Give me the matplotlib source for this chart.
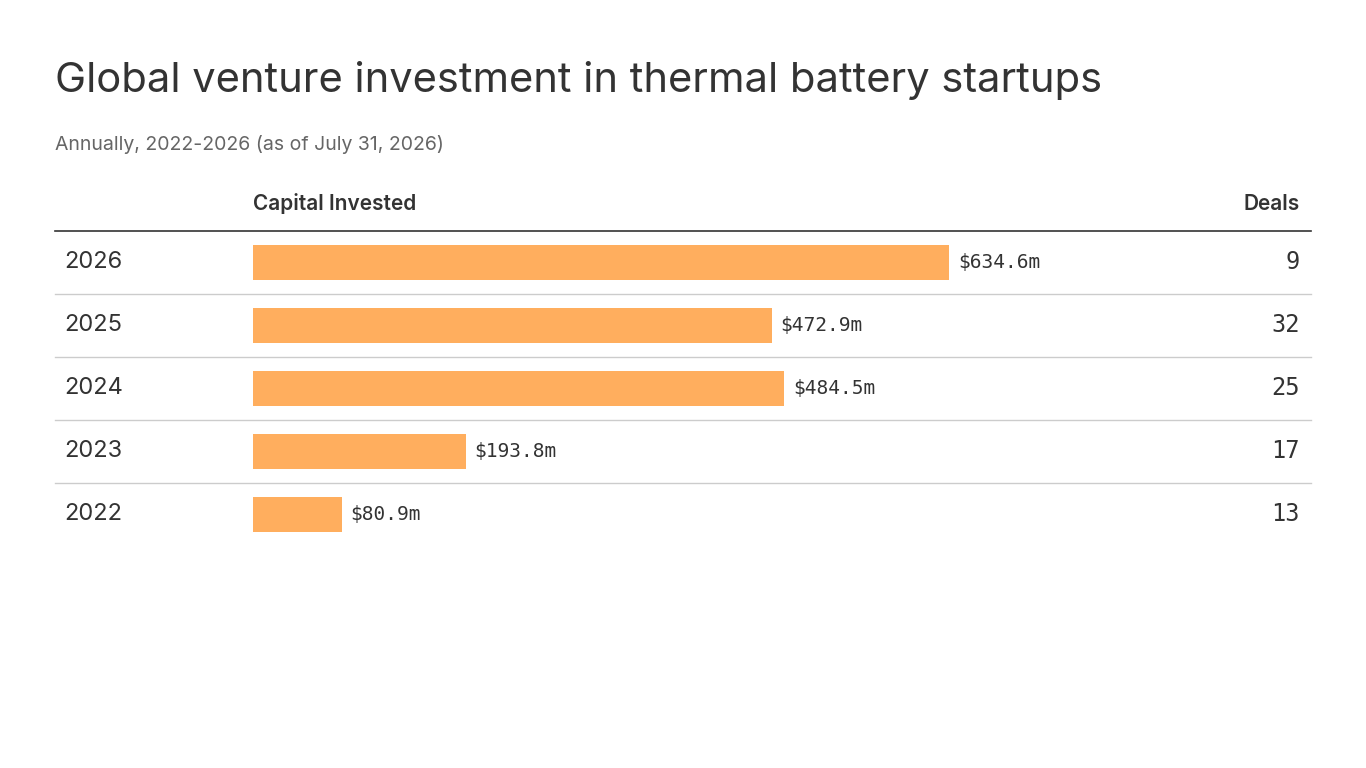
import matplotlib.pyplot as plt
from matplotlib.lines import Line2D

years = ["2026", "2025", "2024", "2023", "2022"]
capital_m = [634.6, 472.9, 484.5, 193.8, 80.9]
deals = [9, 32, 25, 17, 13]

W, H = 1366, 768
fig = plt.figure(figsize=(W / 100, H / 100), dpi=100)
fig.patch.set_facecolor("white")


def fx(px):
    return px / W


def fy(py):
    return 1 - py / H


dark = "#333333"
fig.text(fx(55), fy(80), "Global venture investment in thermal battery startups",
         fontsize=30, color=dark, va="center", family="Inter")
fig.text(fx(55), fy(144), "Annually, 2022-2026 (as of July 31, 2026)",
         fontsize=14, color="#666666", va="center", family="Inter")
fig.text(fx(253), fy(204), "Capital Invested", fontsize=15, color=dark,
         va="center", family="Inter", fontweight="semibold")
fig.text(fx(1300), fy(204), "Deals", fontsize=15, color=dark,
         va="center", ha="right", family="Inter", fontweight="semibold")

# bar axes: x from 253 to 1311 px, y from 231 to 546 px
ax = fig.add_axes([fx(253), fy(546), fx(1311) - fx(253), (546 - 231) / H])
ax.set_xlim(0, 1058 / (696 / 634.6))
ax.set_ylim(len(years) - 0.5, -0.5)
ax.axis("off")
rows = list(range(len(years)))
ax.barh(rows, capital_m, height=0.54, color="#ffae5e")
for r, v in zip(rows, capital_m):
    ax.text(v + 8, r, f"${v:.1f}m", va="center", ha="left", fontsize=14,
            family="DejaVu Sans Mono", color=dark)

# header rule and row separators
fig.add_artist(Line2D([fx(55), fx(1311)], [fy(231), fy(231)], color="#333333", lw=1.2))
for i, (yr, d) in enumerate(zip(years, deals)):
    yc = 262 + 63 * i
    fig.text(fx(64), fy(yc), yr, fontsize=17, color=dark, va="center", family="Inter")
    fig.text(fx(1300), fy(yc), str(d), fontsize=17, color=dark, va="center",
             ha="right", family="DejaVu Sans Mono")
    if i < len(years) - 1:
        fig.add_artist(Line2D([fx(55), fx(1311)], [fy(yc + 32), fy(yc + 32)],
                              color="#cccccc", lw=1))

fig.savefig("out.png", dpi=100)
